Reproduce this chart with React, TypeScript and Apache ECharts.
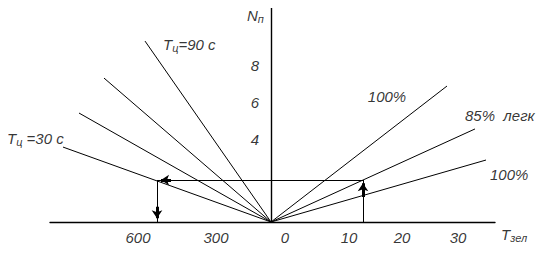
import React, { useEffect, useRef } from "react";
import * as echarts from "echarts";

// Abscissa: horizontal position in drawing units (0 = origin), ordinate: N_п
const originPoint = [0, 0];
// far ends of the T_ц fan (left half)
const cycleLineEnds = [
  [-126, 9.78], // T_ц = 90 c
  [-167, 7.78],
  [-192, 5.89],
  [-208, 4.05], // T_ц = 30 c
];
// far ends of the T_зел fan (right half)
const greenLineEnds = [
  [176, 7.35], // 100%
  [204, 5.03], // 85% легк
  [215, 3.35], // 100%
];
// reading example
const guideLevel = 2.27;
const guideLeftX = -114;
const guideRightX = 92;
const arrowSegments = [
  [[-100, 2.27], [-110, 2.27]],
  [[-114, 0.83], [-114, 0.2]],
  [[92, 1.35], [92, 2.1]],
];
// axis tick labels
const yTickValues = [4, 6, 8];
const yTickColumn = -16;
const xTickLabels = ["600", "300", "0", "10", "20", "30"];
const xTickPositions = [-133, -55, 14, 78, 131, 187];
const xTickLevel = -0.86;
// annotations
const annotations = [
  { text: "{m|N}{s|п}", pos: [-24, 11.14], align: "left" },
  { text: "{m|T}{s|ц}{m|=90 c}", pos: [-108, 9.62], align: "left" },
  { text: "{m|T}{s|ц}{m| =30 c}", pos: [-264, 4.49], align: "left" },
  { text: "{m|100%}", pos: [116, 6.76], align: "center" },
  { text: "{m|85%  легк}", pos: [194, 5.78], align: "left" },
  { text: "{m|100%}", pos: [219, 2.59], align: "left" },
  { text: "{m|T}{s|зел}", pos: [230, -0.7], align: "left" },
];

const FONT = "'Liberation Sans', Arial, sans-serif";

export default function App() {
  const ref = useRef<HTMLDivElement>(null);
  useEffect(() => {
    if (!ref.current) return;
    const chart = echarts.init(ref.current, undefined, { renderer: "svg" });
    const rich = {
      m: { fontSize: 15, fontStyle: "italic", fontFamily: FONT, color: "#000", lineHeight: 18 },
      s: {
        fontSize: 11,
        fontStyle: "italic",
        fontFamily: FONT,
        color: "#000",
        verticalAlign: "bottom",
        padding: [10, 0, 0, 0],
        lineHeight: 11,
      },
    };
    const lineData: any[] = [];
    cycleLineEnds.forEach((e) => lineData.push({ coords: [originPoint, e] }));
    greenLineEnds.forEach((e) => lineData.push({ coords: [originPoint, e] }));
    lineData.push({ coords: [[guideLeftX, guideLevel], [guideRightX, guideLevel]] });
    lineData.push({ coords: [[guideLeftX, 0], [guideLeftX, guideLevel]] });
    lineData.push({ coords: [[guideRightX, 0], [guideRightX, guideLevel]] });

    const textData: any[] = [];
    annotations.forEach((a) =>
      textData.push({
        value: a.pos,
        label: { show: true, formatter: a.text, align: a.align, rich },
      })
    );
    xTickLabels.forEach((t, i) =>
      textData.push({
        value: [xTickPositions[i], xTickLevel],
        label: { show: true, formatter: "{m|" + t + "}", align: "center", rich },
      })
    );
    yTickValues.forEach((v) =>
      textData.push({
        value: [yTickColumn, v],
        label: {
          show: true,
          formatter: "{m|" + v + "}",
          align: "center",
          verticalAlign: "bottom",
          rich,
        },
      })
    );

    chart.setOption({
      animation: false,
      grid: { left: 50, right: 51, top: 0, bottom: 34, containLabel: false },
      xAxis: {
        type: "value",
        min: -221,
        max: 224,
        axisLine: { show: true, onZero: true, lineStyle: { color: "#000", width: 1.4 } },
        axisTick: { show: false },
        axisLabel: { show: false },
        splitLine: { show: false },
      },
      yAxis: {
        type: "value",
        min: 0,
        max: 12,
        interval: 2,
        axisLine: { show: true, onZero: true, lineStyle: { color: "#000", width: 1.4 } },
        axisTick: { show: false },
        splitLine: { show: false },
        axisLabel: { show: false },
      },
      series: [
        {
          type: "lines",
          coordinateSystem: "cartesian2d",
          silent: true,
          lineStyle: { color: "#000", width: 1, opacity: 1 },
          data: lineData,
        },
        {
          type: "lines",
          coordinateSystem: "cartesian2d",
          silent: true,
          symbol: ["none", "arrow"],
          symbolSize: [7, 8],
          lineStyle: { color: "#000", width: 3, opacity: 1 },
          data: arrowSegments.map((c) => ({ coords: c })),
        },
        {
          type: "scatter",
          silent: true,
          clip: false,
          symbolSize: 1,
          itemStyle: { color: "transparent" },
          label: { show: true, position: "inside" },
          data: textData,
        },
      ],
    });
    return () => chart.dispose();
  }, []);
  return <div ref={ref} style={{ width: 546, height: 256, margin: -8 }} />;
}
